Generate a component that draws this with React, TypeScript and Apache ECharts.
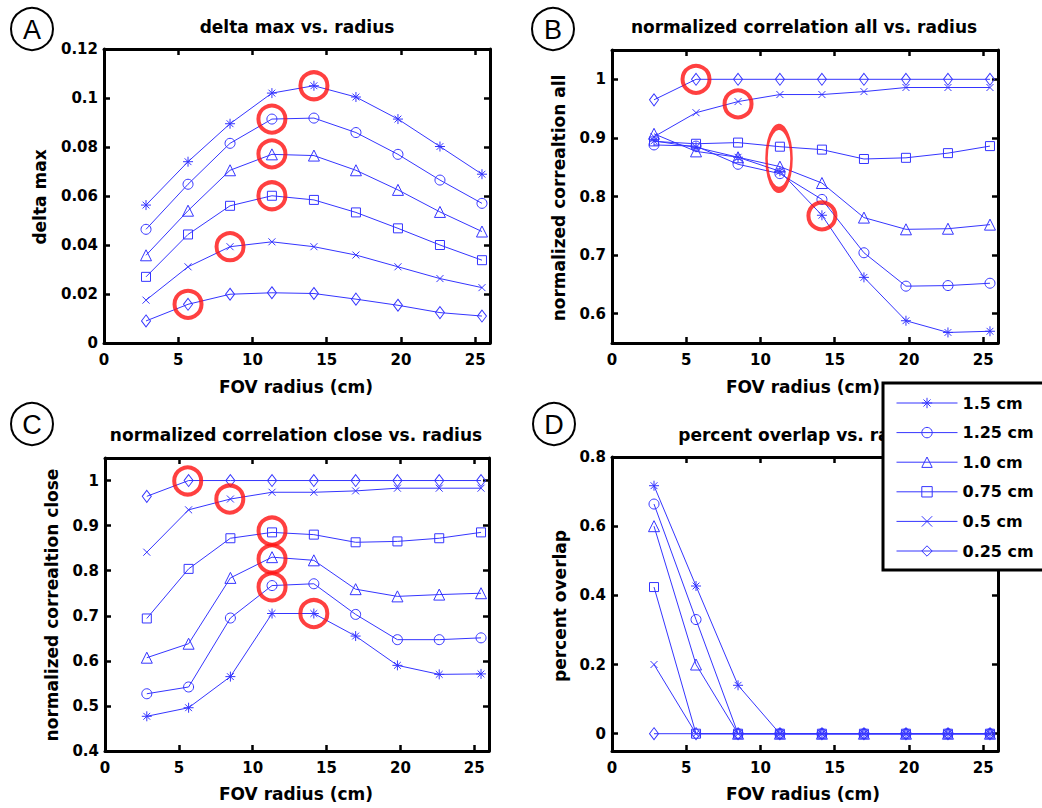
import React, { useEffect, useRef } from 'react';
import * as echarts from 'echarts';

const radius = [2.83, 5.66, 8.49, 11.31, 14.14, 16.97, 19.8, 22.63, 25.46];
const seriesNames = ['1.5 cm', '1.25 cm', '1.0 cm', '0.75 cm', '0.5 cm', '0.25 cm'];
const xTicks = [0, 5, 10, 15, 20, 25];

// Panel A: delta max
const a15 = [0.0563, 0.074, 0.0895, 0.102, 0.105, 0.1004, 0.0914, 0.0802, 0.0689];
const a125 = [0.0464, 0.0648, 0.0815, 0.0914, 0.0918, 0.0859, 0.077, 0.0665, 0.057];
const a10 = [0.0358, 0.054, 0.0705, 0.077, 0.0765, 0.0705, 0.0625, 0.0535, 0.0455];
const a075 = [0.027, 0.0443, 0.056, 0.0601, 0.0584, 0.0533, 0.0468, 0.04, 0.0338];
const a05 = [0.0175, 0.0311, 0.0393, 0.0413, 0.0393, 0.0359, 0.0311, 0.0263, 0.0226];
const a025 = [0.009, 0.0158, 0.0199, 0.0205, 0.0202, 0.0179, 0.0154, 0.0124, 0.011];
const aTicks = [0, 0.02, 0.04, 0.06, 0.08, 0.1, 0.12];
const aMarkX = [14.14, 11.31, 11.31, 11.31, 8.49, 5.66];
const aMarkY = [0.105, 0.0914, 0.0772, 0.0601, 0.0393, 0.0158];

// Panel B: normalized correlation all
const b15 = [0.895, 0.884, 0.867, 0.843, 0.768, 0.662, 0.588, 0.568, 0.57];
const b125 = [0.888, 0.886, 0.855, 0.839, 0.795, 0.704, 0.647, 0.648, 0.652];
const b10 = [0.907, 0.877, 0.867, 0.851, 0.823, 0.764, 0.744, 0.745, 0.752];
const b075 = [0.894, 0.89, 0.892, 0.885, 0.88, 0.864, 0.866, 0.874, 0.886];
const b05 = [0.902, 0.943, 0.962, 0.974, 0.974, 0.979, 0.986, 0.986, 0.986];
const b025 = [0.965, 1.0, 1.0, 1.0, 1.0, 1.0, 1.0, 1.0, 1.0];
const bTicks = [0.6, 0.7, 0.8, 0.9, 1];
const bMarkX = [5.66, 8.49, 14.14];
const bMarkY = [1.0, 0.958, 0.767];
const bEllipseX = [11.25];
const bEllipseY = [0.865];

// Panel C: normalized correlation close
const c15 = [0.477, 0.496, 0.565, 0.705, 0.705, 0.655, 0.59, 0.57, 0.571];
const c125 = [0.527, 0.542, 0.695, 0.767, 0.771, 0.703, 0.647, 0.647, 0.651];
const c10 = [0.607, 0.638, 0.784, 0.83, 0.823, 0.759, 0.743, 0.747, 0.75];
const c075 = [0.694, 0.804, 0.872, 0.885, 0.88, 0.863, 0.865, 0.872, 0.885];
const c05 = [0.841, 0.935, 0.959, 0.974, 0.974, 0.977, 0.983, 0.983, 0.983];
const c025 = [0.965, 1.0, 1.0, 1.0, 1.0, 1.0, 1.0, 1.0, 1.0];
const cTicks = [0.4, 0.5, 0.6, 0.7, 0.8, 0.9, 1];
const cMarkX = [5.6, 8.45, 11.31, 11.31, 11.31, 14.14];
const cMarkY = [0.999, 0.959, 0.888, 0.826, 0.764, 0.705];

// Panel D: percent overlap
const d15 = [0.717, 0.427, 0.14, 0, 0, 0, 0, 0, 0];
const d125 = [0.664, 0.33, 0, 0, 0, 0, 0, 0, 0];
const d10 = [0.6, 0.2, 0, 0, 0, 0, 0, 0, 0];
const d075 = [0.424, 0, 0, 0, 0, 0, 0, 0, 0];
const d05 = [0.2, 0, 0, 0, 0, 0, 0, 0, 0];
const d025 = [0, 0, 0, 0, 0, 0, 0, 0, 0];
const dTicks = [0, 0.2, 0.4, 0.6, 0.8];

const BLUE = '#3535ff';
const RED = '#ff1010';
const FONT = 'DejaVu Sans';

const symbols: any[] = [
  'path://M5,0L5,10M0,5L10,5M1.6,1.6L8.4,8.4M8.4,1.6L1.6,8.4',
  'circle',
  'triangle',
  'rect',
  'path://M0,0L10,10M10,0L0,10',
  'diamond',
];
const symbolSizes: any[] = [10, 10, 11, 9, 7, [9, 12]];

const grids = [
  { left: 104, top: 49, width: 386, height: 294, yMin: 0, yMax: 0.12, ticks: aTicks },
  { left: 612, top: 50, width: 386, height: 293, yMin: 0.55, yMax: 1.05, ticks: bTicks },
  { left: 105, top: 458, width: 384, height: 293, yMin: 0.4, yMax: 1.05, ticks: cTicks },
  { left: 612, top: 457, width: 386, height: 294, yMin: -0.05, yMax: 0.8, ticks: dTicks },
];

const panelData = [
  [a15, a125, a10, a075, a05, a025],
  [b15, b125, b10, b075, b05, b025],
  [c15, c125, c10, c075, c05, c025],
  [d15, d125, d10, d075, d05, d025],
];

const zip = (xs: number[], ys: number[]) => xs.map((x, i) => [x, ys[i]]);

function buildOption() {
  const xAxis: any[] = [];
  const yAxis: any[] = [];
  const series: any[] = [];
  const labelStyle = { color: '#000', fontFamily: FONT, fontWeight: 'bold', fontSize: 15 };
  const lineAx = { show: true, onZero: false, lineStyle: { color: '#000', width: 3 } };

  grids.forEach((g, gi) => {
    const tickX = { show: true, inside: true, length: 6, customValues: xTicks, lineStyle: { color: '#000', width: 2.5 } };
    const tickY = { show: true, inside: true, length: 6, customValues: g.ticks, lineStyle: { color: '#000', width: 2.5 } };
    xAxis.push({
      type: 'value', gridIndex: gi, position: 'bottom', min: 0, max: 26,
      axisLine: lineAx, axisTick: tickX, splitLine: { show: false },
      axisLabel: { ...labelStyle, margin: 9, customValues: xTicks },
    });
    xAxis.push({
      type: 'value', gridIndex: gi, position: 'top', min: 0, max: 26,
      axisLine: lineAx, axisTick: tickX, splitLine: { show: false },
      axisLabel: { show: false },
    });
    yAxis.push({
      type: 'value', gridIndex: gi, position: 'left', min: g.yMin, max: g.yMax,
      axisLine: lineAx, axisTick: tickY, splitLine: { show: false },
      axisLabel: { ...labelStyle, margin: 6, customValues: g.ticks },
    });
    yAxis.push({
      type: 'value', gridIndex: gi, position: 'right', min: g.yMin, max: g.yMax,
      axisLine: lineAx, axisTick: tickY, splitLine: { show: false },
      axisLabel: { show: false },
    });
    panelData[gi].forEach((vals, si) => {
      series.push({
        type: 'line', name: seriesNames[si], xAxisIndex: gi * 2, yAxisIndex: gi * 2,
        data: zip(radius, vals), symbol: symbols[si], symbolSize: symbolSizes[si],
        showSymbol: true, lineStyle: { color: BLUE, width: 1 },
        itemStyle: { color: 'rgba(0,0,0,0)', borderColor: BLUE, borderWidth: 1 },
        emphasis: { disabled: true }, z: 2,
      });
    });
  });

  const ring = (gi: number, xs: number[], ys: number[], size: any) => ({
    type: 'scatter', xAxisIndex: gi * 2, yAxisIndex: gi * 2, data: zip(xs, ys),
    symbol: 'circle', symbolSize: size,
    itemStyle: { color: 'rgba(0,0,0,0)', borderColor: RED, borderWidth: 4 },
    emphasis: { disabled: true }, z: 3, silent: true,
  });
  series.push(ring(0, aMarkX, aMarkY, 27));
  series.push(ring(1, bMarkX, bMarkY, 27));
  series.push(ring(1, bEllipseX, bEllipseY, [25, 63]));
  series.push(ring(2, cMarkX, cMarkY, 27));

  const letter = (t: string, x: number, y: number) => [
    { type: 'circle', shape: { cx: x, cy: y, r: 21 }, style: { fill: '#fff', stroke: '#000', lineWidth: 2 } },
    { type: 'text', x, y: y + 1, style: { text: t, font: '27px "Liberation Sans"', fill: '#000', align: 'center', verticalAlign: 'middle' } },
  ];
  const txt = (t: string, x: number, y: number, rot = 0, size = 17) => ({
    type: 'text', x, y, rotation: rot, z: 1,
    style: { text: t, font: `bold ${size}px "${FONT}"`, fill: '#000', align: 'center', verticalAlign: 'middle' },
  });

  const graphic: any[] = [
    ...letter('A', 32, 29),
    ...letter('B', 553, 29),
    ...letter('C', 32, 424),
    ...letter('D', 554, 424),
    txt('delta max vs. radius', 297, 27),
    txt('normalized correlation all vs. radius', 804, 27),
    txt('normalized correlation close vs. radius', 296, 435),
    txt('percent overlap vs. radius', 804, 435),
    txt('FOV radius (cm)', 296, 387),
    txt('FOV radius (cm)', 803, 387),
    txt('FOV radius (cm)', 296, 794),
    txt('FOV radius (cm)', 803, 794),
    txt('delta max', 40, 197, Math.PI / 2),
    txt('normalized correaltion all', 559, 198, Math.PI / 2),
    txt('normalized correaltion close', 52, 605, Math.PI / 2),
    txt('percent overlap', 560, 606, Math.PI / 2),
    {
      type: 'rect', z: 10, shape: { x: 883, y: 383, width: 200, height: 187 },
      style: { fill: '#fff', stroke: '#000', lineWidth: 3 },
    },
  ];

  return {
    animation: false,
    backgroundColor: '#fff',
    grid: grids.map((g) => ({ left: g.left, top: g.top, width: g.width, height: g.height, containLabel: false })),
    xAxis,
    yAxis,
    series,
    graphic,
    legend: {
      show: true, z: 20, orient: 'vertical', left: 896, top: 394, padding: 0,
      data: seriesNames, selectedMode: false,
      itemWidth: 61, itemHeight: 13, itemGap: 11.6,
      lineStyle: { width: 1 },
      itemStyle: { borderWidth: 1 },
      textStyle: { color: '#000', fontFamily: FONT, fontWeight: 'bold', fontSize: 16, lineHeight: 18 },
    },
  };
}

export default function App() {
  const ref = useRef<HTMLDivElement>(null);
  useEffect(() => {
    if (!ref.current) return;
    const chart = echarts.init(ref.current, undefined, { renderer: 'svg' });
    chart.setOption(buildOption() as any);
    return () => chart.dispose();
  }, []);
  return (
    <div
      ref={ref}
      style={{ position: 'fixed', left: 0, top: 0, width: 1042, height: 808, background: '#fff' }}
    />
  );
}
